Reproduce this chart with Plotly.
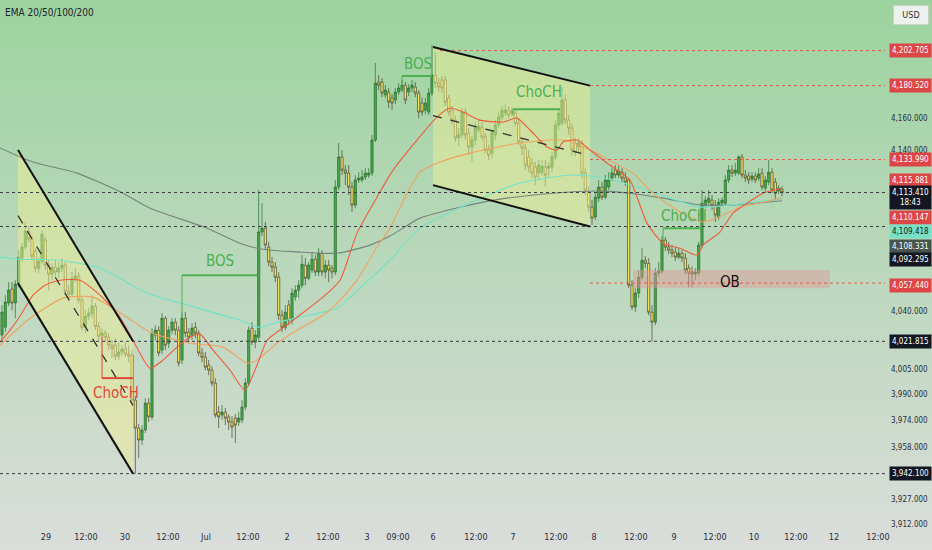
import math
import plotly.graph_objects as go

# hourly candles, bar 0 = first visible candle
opens = [4025.6, 4030.4, 4045.2, 4053.7, 4045.2, 4057.4, 4072.8, 4079.6, 4089.5, 4084.5,
         4077.1, 4066.6, 4070.9, 4083.9, 4068.4, 4062.9, 4067.2, 4064.2, 4066.6, 4068.4,
         4052.5, 4050.6, 4060.4, 4061.7, 4047.0, 4030.4, 4037.1, 4039.0, 4043.3, 4031.0,
         4024.9, 4026.8, 4024.3, 4019.5, 4019.5, 4012.8, 4015.3, 4017.1, 4014.1, 4013.5,
         3986.2, 3969.4, 3962.2, 3968.2, 3984.4, 3976.0, 4025.6, 4028.6, 4016.5, 4035.9,
         4020.7, 4028.6, 4033.5, 4028.6, 4010.4, 4035.9, 4027.4, 4025.6, 4030.4, 4026.8,
         4014.7, 4012.2, 4007.3, 4004.3, 3996.5, 3979.0, 3977.2, 3979.0, 3976.0, 3973.0,
         3975.4, 3973.0, 3974.2, 3982.0, 3996.5, 4029.8, 4021.3, 4024.3, 4088.9, 4091.3,
         4079.6, 4070.3, 4067.2, 4061.0, 4037.7, 4030.4, 4043.9, 4034.7, 4049.0, 4053.0,
         4056.1, 4068.4, 4060.4, 4065.4, 4072.1, 4064.2, 4075.8, 4064.2, 4068.4, 4066.6,
         4064.2, 4116.8, 4135.6, 4127.4, 4125.5, 4116.8, 4105.6, 4121.2, 4121.2, 4123.1,
         4124.3, 4125.5, 4146.2, 4182.7, 4182.7, 4174.6, 4176.4, 4172.7, 4171.4, 4176.4,
         4177.7, 4180.8, 4176.4, 4179.0, 4179.6, 4175.8, 4169.5, 4165.0, 4163.8, 4175.8,
         4187.2, 4182.1, 4184.0, 4184.0, 4172.7, 4165.0, 4158.7, 4147.5, 4149.4, 4163.8,
         4150.6, 4141.8, 4146.2, 4152.5, 4154.3, 4148.1, 4139.9, 4138.0, 4149.4, 4155.6,
         4160.6, 4163.2, 4165.0, 4163.2, 4163.2, 4156.8, 4145.0, 4141.2, 4135.6, 4131.8,
         4129.3, 4125.5, 4126.1, 4129.3, 4128.6, 4129.3, 4135.6, 4155.6, 4156.8, 4171.4,
         4158.7, 4153.7, 4144.3, 4141.8, 4144.3, 4125.5, 4113.7, 4104.3, 4098.2, 4109.9,
         4116.8, 4110.5, 4116.8, 4122.4, 4127.4, 4124.3, 4126.1, 4122.4, 4121.2, 4056.1,
         4042.7, 4051.3, 4061.0, 4071.5, 4069.6, 4039.6, 4033.5, 4063.6, 4064.8, 4083.9,
         4079.6, 4077.7, 4076.5, 4073.4, 4075.8, 4072.8, 4066.6, 4064.2, 4062.9, 4063.6,
         4080.8, 4105.6, 4107.4, 4108.7, 4105.6, 4098.2, 4106.8, 4106.8, 4121.2, 4127.4,
         4125.5, 4125.5, 4135.6, 4124.3, 4123.7, 4121.8, 4123.7, 4122.4, 4125.5, 4116.1,
         4119.9, 4126.1, 4119.9, 4114.3, 4115.5]
highs = [4043.9, 4050.0, 4058.0, 4058.0, 4059.2, 4077.7, 4082.0, 4095.1, 4092.6, 4086.4,
         4078.9, 4073.4, 4090.1, 4085.8, 4071.5, 4069.6, 4071.5, 4070.3, 4072.8, 4070.3,
         4056.1, 4064.2, 4066.6, 4064.2, 4049.4, 4040.8, 4042.1, 4050.0, 4045.2, 4033.5,
         4029.8, 4028.6, 4026.8, 4022.5, 4023.7, 4021.3, 4019.5, 4021.3, 4019.5, 4016.5,
         3988.6, 3971.8, 3971.2, 3987.4, 3987.4, 4029.8, 4031.6, 4031.0, 4039.0, 4037.1,
         4031.0, 4035.9, 4035.9, 4031.0, 4039.6, 4039.6, 4029.8, 4032.9, 4033.5, 4028.6,
         4017.7, 4015.3, 4010.4, 4006.7, 3999.5, 3982.6, 3983.2, 3981.4, 3977.8, 3976.6,
         3977.8, 3979.0, 3986.2, 3999.5, 4031.0, 4033.5, 4028.6, 4114.9, 4106.8, 4095.1,
         4082.7, 4073.4, 4070.3, 4064.2, 4040.8, 4043.9, 4047.0, 4054.3, 4056.1, 4059.2,
         4074.6, 4072.8, 4070.3, 4076.5, 4074.6, 4078.9, 4077.7, 4071.5, 4071.5, 4068.4,
         4121.2, 4144.3, 4139.9, 4130.5, 4130.5, 4119.9, 4124.3, 4126.1, 4127.4, 4128.6,
         4128.6, 4149.4, 4194.8, 4187.2, 4185.3, 4180.8, 4179.0, 4175.2, 4179.0, 4182.1,
         4184.0, 4182.7, 4181.5, 4184.0, 4182.7, 4177.7, 4172.7, 4172.7, 4179.0, 4206.3,
         4201.8, 4185.3, 4186.6, 4186.6, 4174.6, 4167.6, 4161.3, 4153.7, 4166.3, 4166.3,
         4153.7, 4148.7, 4157.5, 4158.7, 4157.5, 4150.6, 4143.1, 4152.5, 4158.7, 4163.8,
         4167.6, 4168.9, 4167.6, 4167.0, 4166.3, 4160.0, 4147.5, 4143.7, 4139.9, 4134.9,
         4132.4, 4133.7, 4133.7, 4133.7, 4132.4, 4138.7, 4158.7, 4166.3, 4179.6, 4174.6,
         4161.9, 4156.2, 4147.5, 4147.5, 4146.2, 4128.6, 4117.4, 4108.7, 4113.7, 4121.2,
         4119.9, 4124.3, 4126.1, 4128.6, 4130.5, 4130.5, 4128.6, 4126.1, 4122.4, 4059.2,
         4054.3, 4065.4, 4078.9, 4074.0, 4072.8, 4043.9, 4066.6, 4070.3, 4086.4, 4085.8,
         4082.7, 4080.8, 4079.6, 4078.9, 4077.7, 4075.8, 4069.0, 4067.8, 4066.6, 4082.7,
         4114.9, 4111.1, 4114.9, 4111.8, 4108.7, 4109.9, 4110.5, 4124.3, 4130.5, 4130.5,
         4131.8, 4136.8, 4137.4, 4127.4, 4126.1, 4126.1, 4126.1, 4128.6, 4128.6, 4123.7,
         4133.7, 4128.6, 4122.4, 4118.0, 4117.4]
lows = [4022.5, 4027.4, 4043.3, 4040.8, 4035.9, 4054.9, 4070.3, 4078.3, 4082.7, 4071.5,
        4064.2, 4063.6, 4069.0, 4065.4, 4053.1, 4059.2, 4061.7, 4060.4, 4064.2, 4050.0,
        4047.0, 4048.8, 4058.0, 4045.2, 4028.6, 4026.8, 4034.7, 4035.9, 4028.6, 4022.5,
        4019.5, 4021.3, 4016.5, 4011.6, 4010.4, 4010.4, 4012.8, 4012.2, 4009.2, 3984.4,
        3942.1, 3951.4, 3959.2, 3966.4, 3973.0, 3974.2, 4022.5, 4012.8, 4014.1, 4016.5,
        4017.7, 4026.2, 4025.6, 4006.7, 4008.0, 4024.3, 4020.7, 4022.5, 4023.7, 4012.8,
        4009.2, 4004.3, 4001.3, 3994.6, 3975.4, 3969.4, 3974.2, 3971.2, 3968.2, 3963.4,
        3960.4, 3970.6, 3972.4, 3980.2, 3994.6, 4019.5, 4017.7, 4022.5, 4086.4, 4077.7,
        4067.8, 4064.2, 4058.0, 4034.7, 4027.4, 4028.6, 4031.6, 4032.0, 4046.5, 4048.2,
        4054.3, 4056.1, 4059.2, 4063.6, 4061.7, 4061.7, 4061.7, 4060.4, 4058.0, 4060.4,
        4062.3, 4114.9, 4124.3, 4118.0, 4111.8, 4101.3, 4103.7, 4119.3, 4119.9, 4121.2,
        4122.4, 4123.7, 4145.0, 4177.7, 4173.3, 4172.7, 4166.3, 4165.0, 4168.9, 4174.6,
        4176.4, 4168.9, 4173.9, 4176.4, 4173.3, 4160.0, 4161.3, 4162.5, 4161.9, 4173.9,
        4179.0, 4176.4, 4175.8, 4167.6, 4161.3, 4156.2, 4145.0, 4142.5, 4147.5, 4146.2,
        4136.8, 4132.4, 4143.1, 4150.6, 4146.2, 4138.0, 4133.7, 4134.9, 4146.2, 4153.7,
        4158.7, 4161.3, 4160.0, 4161.3, 4155.0, 4143.1, 4136.8, 4127.4, 4126.1, 4122.4,
        4118.0, 4121.2, 4123.7, 4117.4, 4122.4, 4126.1, 4133.7, 4152.5, 4155.0, 4156.2,
        4149.4, 4136.8, 4136.2, 4138.7, 4122.4, 4111.8, 4101.3, 4093.2, 4096.3, 4107.4,
        4108.7, 4109.3, 4114.9, 4120.5, 4122.4, 4122.4, 4119.9, 4117.4, 4054.3, 4040.8,
        4039.6, 4048.2, 4059.2, 4066.6, 4037.7, 4021.8, 4031.6, 4061.0, 4062.9, 4077.1,
        4075.2, 4073.4, 4070.9, 4072.1, 4070.3, 4062.9, 4054.9, 4054.9, 4059.2, 4061.7,
        4078.9, 4103.7, 4105.6, 4102.5, 4095.1, 4096.3, 4105.0, 4105.0, 4119.3, 4123.1,
        4123.7, 4124.3, 4122.4, 4119.9, 4118.6, 4119.9, 4119.3, 4120.5, 4114.9, 4113.7,
        4118.0, 4113.0, 4108.7, 4112.4, 4111.1]
closes = [4039.6, 4045.8, 4053.1, 4045.2, 4056.8, 4073.4, 4079.6, 4089.5, 4084.5, 4074.0,
          4066.6, 4070.9, 4087.6, 4068.4, 4062.9, 4067.2, 4064.2, 4066.6, 4068.4, 4052.5,
          4050.6, 4060.4, 4061.7, 4047.0, 4030.4, 4037.1, 4039.0, 4043.3, 4031.0, 4024.9,
          4026.8, 4024.3, 4019.5, 4017.7, 4012.8, 4015.3, 4017.1, 4014.1, 4012.8, 3986.2,
          3969.4, 3962.2, 3968.2, 3984.4, 3976.0, 4026.8, 4028.6, 4014.7, 4035.9, 4019.5,
          4028.6, 4033.5, 4028.6, 4008.6, 4035.9, 4026.8, 4024.3, 4029.8, 4026.8, 4014.7,
          4012.2, 4006.1, 4004.3, 3996.5, 3977.2, 3976.0, 3979.0, 3975.4, 3973.0, 3970.0,
          3971.2, 3975.4, 3982.0, 3996.5, 4028.6, 4021.3, 4025.6, 4088.9, 4091.3, 4080.8,
          4070.3, 4067.2, 4061.0, 4037.7, 4030.4, 4039.6, 4034.7, 4051.3, 4053.0, 4056.1,
          4069.0, 4060.4, 4068.4, 4072.1, 4064.2, 4075.8, 4064.2, 4068.4, 4065.4, 4064.2,
          4116.8, 4135.6, 4127.4, 4125.5, 4116.8, 4105.6, 4121.2, 4122.4, 4123.1, 4125.5,
          4125.5, 4146.2, 4182.1, 4180.8, 4175.8, 4177.7, 4170.1, 4169.5, 4176.4, 4179.0,
          4180.8, 4171.4, 4179.0, 4180.8, 4175.8, 4163.8, 4163.8, 4169.5, 4175.8, 4187.2,
          4182.1, 4179.6, 4179.0, 4170.1, 4163.8, 4158.7, 4147.5, 4149.4, 4163.8, 4149.4,
          4141.8, 4146.2, 4154.3, 4155.0, 4148.1, 4139.9, 4136.8, 4150.6, 4155.6, 4160.6,
          4165.0, 4165.0, 4161.9, 4164.4, 4156.8, 4145.0, 4141.2, 4130.5, 4129.3, 4125.5,
          4123.1, 4130.5, 4129.9, 4124.3, 4129.9, 4135.6, 4155.6, 4163.2, 4171.4, 4158.7,
          4153.7, 4139.9, 4138.7, 4144.3, 4125.5, 4114.9, 4104.3, 4097.5, 4110.5, 4116.8,
          4110.5, 4121.2, 4121.2, 4125.5, 4124.3, 4126.8, 4122.4, 4119.9, 4056.1, 4042.7,
          4051.3, 4061.0, 4071.5, 4069.6, 4039.6, 4033.5, 4063.6, 4064.8, 4083.9, 4079.6,
          4077.7, 4075.8, 4073.4, 4075.8, 4072.8, 4065.4, 4063.6, 4062.9, 4064.2, 4080.8,
          4106.8, 4108.7, 4109.9, 4105.6, 4099.4, 4107.4, 4108.7, 4121.2, 4127.4, 4125.5,
          4127.4, 4135.6, 4124.3, 4122.4, 4121.2, 4123.7, 4121.2, 4124.9, 4116.8, 4121.2,
          4126.1, 4114.9, 4113.0, 4116.1, 4113.41]
bars = list(range(len(closes)))

# EMA 20/50/100/200 (bar index, price)
ema20_x = [-0.6, 2.4, 5.4, 9.3, 12.9, 17.4, 23.4, 29.4, 35.4, 39.3, 44.4, 48.3, 52.5, 56.4, 59.4,
           63.3, 68.4, 72.9, 76.5, 79.5, 82.5, 88.5, 96.3, 101.4, 106.5, 112.5, 117.3, 124.5,
           130.5, 134.4, 138.3, 143.4, 150.3, 154.5, 158.4, 163.5, 166.5, 168.3, 172.5, 176.4,
           181.5, 185.4, 188.4, 193.5, 198.3, 203.4, 208.5, 210.3, 215.4, 219.3, 223.5, 228.3, 234.0]
ema20_y = [4021.3, 4028.6, 4037.1, 4050.0, 4056.1, 4059.2, 4059.2, 4050.0, 4036.5, 4022.5, 4005.5,
           4010.4, 4018.3, 4024.3, 4026.2, 4016.5, 4004.3, 3992.2, 4007.3, 4022.5, 4027.4, 4036.5,
           4048.8, 4059.2, 4088.2, 4110.5, 4127.4, 4146.2, 4160.6, 4166.3, 4163.8, 4158.7, 4157.5,
           4160.0, 4152.5, 4141.8, 4139.9, 4145.0, 4146.2, 4139.9, 4131.8, 4126.1, 4121.2, 4094.4,
           4082.0, 4078.9, 4074.6, 4080.8, 4088.9, 4100.6, 4106.8, 4113.0, 4115.881]
ema50_x = [-0.6, 8.4, 18.3, 27.3, 37.5, 44.4, 56.4, 66.3, 73.5, 76.5, 82.5, 88.5, 96.3, 101.4,
           106.5, 112.5, 116.4, 120.9, 125.4, 131.4, 140.4, 155.4, 168.3, 176.4, 183.3, 189.3,
           195.3, 203.4, 210.3, 216.3, 221.4, 228.3, 234.0]
ema50_y = [4019.5, 4035.9, 4048.2, 4048.8, 4036.5, 4027.4, 4020.7, 4018.3, 4008.6, 4010.4, 4020.7,
           4028.6, 4037.7, 4047.0, 4059.2, 4079.6, 4091.3, 4110.5, 4126.1, 4132.4, 4138.0, 4144.3,
           4146.2, 4139.9, 4132.4, 4125.5, 4113.0, 4101.3, 4095.1, 4099.4, 4104.3, 4107.4, 4110.147]
ema100_x = [-0.6, 5.4, 17.4, 29.4, 43.5, 53.4, 71.4, 77.4, 82.5, 100.5, 107.4, 116.4, 125.4,
            142.5, 155.4, 170.4, 176.4, 183.3, 193.5, 209.4, 218.4, 234.0]
ema100_y = [4073.4, 4072.1, 4071.5, 4066.6, 4051.3, 4045.2, 4034.7, 4030.4, 4033.5, 4042.1, 4054.3,
            4071.5, 4091.3, 4108.7, 4119.3, 4124.3, 4123.7, 4121.2, 4114.9, 4104.3, 4105.6, 4109.418]
ema200_x = [-0.6, 9.3, 22.5, 36.3, 44.4, 61.5, 71.4, 76.5, 89.4, 100.5, 110.4, 116.4, 125.4,
            137.4, 149.4, 165.3, 179.4, 188.4, 198.3, 209.4, 218.4, 234.0]
ema200_y = [4141.2, 4132.4, 4125.5, 4113.0, 4103.7, 4091.3, 4082.0, 4078.9, 4076.5, 4075.8, 4080.8,
            4086.4, 4097.5, 4104.3, 4109.3, 4113.0, 4114.3, 4113.0, 4109.9, 4105.6, 4105.6, 4108.331]

# time axis
tick_pos = [0.9, 13.2, 25.2, 36.9, 49.8, 61.2, 73.8, 85.5, 97.8, 109.5, 118.8, 129.3, 142.2,
            153.3, 166.2, 177.6, 190.2, 201.6, 213.9, 225.6, 238.2, 249.6, 262.8]
tick_text = ['12:00', '29', '12:00', '30', '12:00', 'Jul', '12:00', '2', '12:00', '3', '09:00',
             '6', '12:00', '7', '12:00', '8', '12:00', '9', '12:00', '10', '12:00', '12', '12:00']
price_ticks = [3912, 3927, 3958, 3974, 3990, 4005, 4040, 4140, 4160]

# drawings
chan_a_x = [4.8, 39.3]
chan_a_top = [4140.0, 4021.8]
chan_a_bot = [4057.4, 3942.1]
chan_a_mid = [4099.0, 3983.0]
chan_b_x = [129.3, 176.4]
chan_b_top = [4205.0, 4180.5]
chan_b_bot = [4118.0, 4092.3]
chan_b_mid = [4161.5, 4136.4]

ob_x = [189.3, 248.4]
ob_price = [4054.3, 4065.4]

levels = [4202.705, 4180.52, 4133.99, 4057.44, 4113.41, 4092.295, 4021.815, 3942.1]
level_start = [131.4, 176.4, 176.4, 176.4, -0.6, -0.6, -0.6, -0.6]

struct_text = ['ChoCH', 'BOS', 'BOS', 'ChoCH', 'ChoCH']
struct_x0 = [30.0, 54.0, 120.0, 153.3, 198.3]
struct_x1 = [39.3, 76.5, 129.0, 167.4, 210.0]
struct_level = [3999.5, 4062.3, 4186.6, 4165.6, 4091.3]
struct_tail = [4024.3, 4035.9, 4177.7, 4162.0, 4082.0]
struct_tx = [34.2, 65.4, 124.7, 161.0, 204.5]
struct_ty = [3990.7, 4070.9, 4194.2, 4176.4, 4098.8]

tag_values = [4202.705, 4180.52, 4133.99, 4115.881, 4113.41, 4110.147, 4109.418, 4108.331,
              4092.295, 4057.44, 4021.815, 3942.1]
tag_text = ['4,202.705', '4,180.520', '4,133.990', '4,115.881', '4,113.410<br>18:43', '4,110.147',
            '4,109.418', '4,108.331', '4,092.295', '4,057.440', '4,021.815', '3,942.100']

# ---- styling ----
RED = '#dc4646'
NAVY = '#131722'
GREEN_TXT = '#4caf50'
RED_TXT = '#e5463c'
FONT = 'Liberation Sans Narrow, DejaVu Sans Condensed, Arial Narrow, Liberation Sans, Arial, sans-serif'
tag_bg = [RED, RED, RED, RED, NAVY, RED, '#7ae0c4', '#46554d', NAVY, RED, NAVY, NAVY]
tag_fg = ['white'] * 6 + ['#10201a'] + ['white'] * 5
tag_shift = [0, 0, 0, 8, -5, -20, -33, -46, -33, -2, 0, 0]
struct_color = [RED_TXT, GREEN_TXT, GREEN_TXT, GREEN_TXT, GREEN_TXT]

x_range = [-0.6, 264.9]

fig = go.Figure()


def seg(x, y, color, width=1, dash=None):
    fig.add_trace(go.Scatter(x=x, y=y, mode='lines', hoverinfo='skip',
                             line=dict(color=color, width=width, dash=dash)))


def box(x0, x1, top, bot, color):
    fig.add_trace(go.Scatter(x=[x0, x1, x1, x0, x0], y=[top[0], top[1], bot[1], bot[0], top[0]],
                             mode='lines', fill='toself', fillcolor=color,
                             line=dict(width=0), hoverinfo='skip'))


# channel / order-block fills under the candles
box(chan_a_x[0], chan_a_x[1], chan_a_top, chan_a_bot, 'rgba(238,238,150,0.5)')
box(chan_b_x[0], chan_b_x[1], chan_b_top, chan_b_bot, 'rgba(238,238,150,0.5)')
box(ob_x[0], ob_x[1], [ob_price[1], ob_price[1]], [ob_price[0], ob_price[0]], 'rgba(228,150,150,0.45)')

fig.add_trace(go.Candlestick(
    x=bars, open=opens, high=highs, low=lows, close=closes,
    increasing=dict(fillcolor='#45a849', line=dict(color='#2b6e2f', width=0.7)),
    decreasing=dict(fillcolor='#f8e65a', line=dict(color='#4a4630', width=0.7)),
    whiskerwidth=0, hoverinfo='none'))

for ex, ey, col in [(ema200_x, ema200_y, '#76857b'), (ema100_x, ema100_y, '#6fe3c8'),
                    (ema50_x, ema50_y, '#f2a15e'), (ema20_x, ema20_y, '#ef5b3c')]:
    fig.add_trace(go.Scatter(x=ex, y=ey, mode='lines', hoverinfo='skip',
                             line=dict(color=col, width=1.1, shape='spline', smoothing=0.6)))

for i, lv in enumerate(levels):
    seg([level_start[i], x_range[1]], [lv, lv], '#e05a4e' if i < 4 else '#3a3d40', 1, 'dot')

for xs, top, bot, mid in [(chan_a_x, chan_a_top, chan_a_bot, chan_a_mid),
                          (chan_b_x, chan_b_top, chan_b_bot, chan_b_mid)]:
    seg(xs, top, '#111111', 2)
    seg(xs, bot, '#111111', 2)
    seg(xs, mid, '#333333', 1.3, 'dash')

annotations = []
for i, t in enumerate(struct_text):
    seg([struct_x0[i], struct_x1[i]], [struct_level[i], struct_level[i]], struct_color[i], 2)
    seg([struct_x0[i], struct_x0[i]], [struct_level[i], struct_tail[i]], struct_color[i], 1)
    annotations.append(dict(x=struct_tx[i], y=math.log10(struct_ty[i]), xref='x', yref='y',
                            text=t, showarrow=False,
                            font=dict(family=FONT, size=15, color=struct_color[i])))

annotations.append(dict(x=(ob_x[0] + ob_x[1]) / 2 - 0.4, y=math.log10(4058.3), xref='x', yref='y',
                        text='OB', showarrow=False, font=dict(family=FONT, size=15, color='#111111')))

for v, t, bg, fg, sh in zip(tag_values, tag_text, tag_bg, tag_fg, tag_shift):
    annotations.append(dict(x=1, y=math.log10(v), xref='paper', yref='y', xanchor='left',
                            xshift=4, yshift=sh, text=t, showarrow=False, bgcolor=bg,
                            borderpad=2, font=dict(family=FONT, size=8, color=fg)))

annotations.append(dict(x=1, y=1, xref='paper', yref='paper', xanchor='left', yanchor='top',
                        xshift=8, yshift=-5, text='USD', showarrow=False, bgcolor='#eef2ee',
                        bordercolor='#c9d2c9', borderwidth=1, borderpad=4, width=26,
                        font=dict(family=FONT, size=9, color='#2a2e39')))
annotations.append(dict(x=0, y=1, xref='paper', yref='paper', xanchor='left', yanchor='top',
                        xshift=3, yshift=-5, text='EMA 20/50/100/200', showarrow=False,
                        font=dict(family=FONT, size=10, color='#1e222d')))

# TradingView-like vertical background gradient
top_rgb = (157, 211, 159)
bot_rgb = (218, 221, 218)
n_bands = 60
y_low = -23 / 527
shapes = []
for k in range(n_bands):
    t = k / (n_bands - 1)
    c = tuple(round(a + (b - a) * t) for a, b in zip(top_rgb, bot_rgb))
    y1 = 1 - (1 - y_low) * k / n_bands
    y0 = 1 - (1 - y_low) * (k + 1) / n_bands - 0.003
    shapes.append(dict(type='rect', xref='paper', yref='paper', x0=-0.01, x1=1.07, y0=y0, y1=y1,
                       fillcolor='rgb(%d,%d,%d)' % c, line=dict(width=0), layer='below'))

fig.update_layout(
    width=932, height=550,
    margin=dict(l=0, r=47, t=0, b=23, pad=0),
    paper_bgcolor='rgb(218,221,218)',
    plot_bgcolor='rgba(0,0,0,0)',
    showlegend=False,
    boxgap=0.05,
    font=dict(family=FONT, size=9, color='#2a2e39'),
    shapes=shapes,
    annotations=annotations,
    hovermode=False,
    xaxis=dict(range=x_range, tickvals=tick_pos, ticktext=tick_text, showgrid=False,
               zeroline=False, showline=False, ticks='', rangeslider=dict(visible=False),
               ticklabelstandoff=3, automargin=False,
               tickfont=dict(family=FONT, size=9, color='#2a2e39')),
    yaxis=dict(type='log', range=[math.log10(3910.4), math.log10(4235.0)], side='right',
               tickvals=price_ticks, ticktext=['{:,.3f}'.format(v) for v in price_ticks],
               showgrid=False, zeroline=False, showline=False, ticks='', ticklabelstandoff=5,
               automargin=False, tickfont=dict(family=FONT, size=8, color='#2a2e39')),
)

# page body margin would push the chart 8px off the window edge
fig.write_html("out.html", config={'displayModeBar': False},
               post_script="document.body.style.margin='0';document.body.style.overflow='hidden';")
